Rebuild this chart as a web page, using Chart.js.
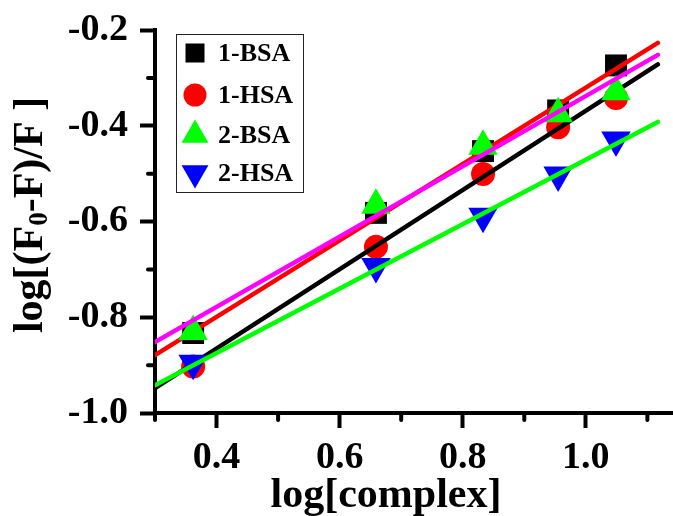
<!DOCTYPE html>
<html lang="en">
<head>
    <meta charset="UTF-8">
    <title>log[(F0-F)/F] vs log[complex]</title>
    <script src="https://cdn.jsdelivr.net/npm/chart.js"></script>
    <style>
        html, body { margin: 0; padding: 0; background: #fff; overflow: hidden; }
        #wrap { position: relative; width: 673px; height: 516px; }
    </style>
</head>
<body>
    <div id="wrap">
        <canvas id="myChart"></canvas>
    </div>

    <script>
        // data
        var xValues = [0.362, 0.659, 0.833, 0.955, 1.049];
        var bsa1 = [-0.833, -0.582, -0.453, -0.368, -0.274];
        var hsa1 = [-0.903, -0.653, -0.501, -0.403, -0.342];
        var bsa2 = [-0.830, -0.566, -0.443, -0.375, -0.329];
        var hsa2 = [-0.896, -0.694, -0.589, -0.503, -0.430];

        // linear fits, read at both ends
        var fitX = [0.3, 1.117];
        var fitRed = [-0.879, -0.227];      // 1-BSA
        var fitBlack = [-0.948, -0.272];    // 1-HSA
        var fitMagenta = [-0.852, -0.252];  // 2-BSA
        var fitGreen = [-0.942, -0.392];    // 2-HSA

        var xTicks = [0.4, 0.6, 0.8, 1.0];
        var xMinor = [0.3, 0.5, 0.7, 0.9, 1.1];
        var yTicks = [-1.0, -0.8, -0.6, -0.4, -0.2];
        var yMinor = [-0.9, -0.7, -0.5, -0.3];

        var FONT = '"Liberation Serif", "Times New Roman", serif';

        function pts(xs, ys) {
            return xs.map(function (x, i) { return { x: x, y: ys[i] }; });
        }

        function scatterSet(label, ys, color, style, radius, rotation, order) {
            return {
                label: label,
                data: pts(xValues, ys),
                showLine: false,
                pointStyle: style,
                pointRadius: radius,
                pointRotation: rotation,
                pointBackgroundColor: color,
                pointBorderWidth: 0,
                backgroundColor: color,
                order: order
            };
        }

        function fitSet(ys, color, order) {
            return {
                label: 'fit',
                data: pts(fitX, ys),
                showLine: true,
                borderColor: color,
                borderWidth: 4.5,
                borderCapStyle: 'round',
                pointRadius: 0,
                fill: false,
                order: order
            };
        }

        var scatterSets = [
            scatterSet('1-BSA', bsa1, '#000000', 'rect', 15.5, 0, 8),
            scatterSet('1-HSA', hsa1, '#ff0000', 'circle', 12, 0, 6),
            scatterSet('2-BSA', bsa2, '#00ff00', 'triangle', 17, 0, 4),
            scatterSet('2-HSA', hsa2, '#0000ff', 'triangle', 17, 180, 2)
        ];

        // minor ticks, axis titles and the inset legend
        var overlay = {
            id: 'overlay',
            afterDraw: function (chart) {
                var ctx = chart.ctx;
                var xs = chart.scales.x, ys = chart.scales.y;
                var area = chart.chartArea;
                ctx.save();
                ctx.strokeStyle = '#000';
                ctx.lineWidth = 4;
                ctx.lineCap = 'round';
                xMinor.forEach(function (v) {
                    var p = xs.getPixelForValue(v);
                    ctx.beginPath();
                    ctx.moveTo(p, area.bottom);
                    ctx.lineTo(p, area.bottom + 7);
                    ctx.stroke();
                });
                yMinor.forEach(function (v) {
                    var p = ys.getPixelForValue(v);
                    ctx.beginPath();
                    ctx.moveTo(area.left, p);
                    ctx.lineTo(area.left - 7, p);
                    ctx.stroke();
                });

                // x title
                ctx.fillStyle = '#000';
                ctx.font = 'bold 42px ' + FONT;
                ctx.textAlign = 'center';
                ctx.textBaseline = 'alphabetic';
                ctx.fillText('log[complex]', 386, 507);

                // y title with subscript
                ctx.save();
                ctx.translate(42, 215);
                ctx.rotate(-Math.PI / 2);
                var big = 'bold 42px ' + FONT, small = 'bold 27px ' + FONT;
                var parts = [['log[(F', big, 0], ['0', small, 5], ['-F)/F ]', big, 0]];
                var total = 0;
                parts.forEach(function (p) { ctx.font = p[1]; total += ctx.measureText(p[0]).width; });
                var cx = -total / 2;
                ctx.textAlign = 'left';
                parts.forEach(function (p) {
                    ctx.font = p[1];
                    ctx.fillText(p[0], cx, p[2]);
                    cx += ctx.measureText(p[0]).width;
                });
                ctx.restore();

                // legend box
                ctx.lineWidth = 1;
                ctx.strokeStyle = '#222';
                ctx.strokeRect(176.5, 34.5, 127, 158);
                var rows = [53, 95, 135, 173];
                ctx.font = 'bold 26px ' + FONT;
                ctx.textAlign = 'left';
                ctx.textBaseline = 'middle';
                scatterSets.forEach(function (ds, i) {
                    var cy = rows[i], mx = 195;
                    ctx.fillStyle = ds.pointBackgroundColor;
                    ctx.beginPath();
                    if (ds.pointStyle === 'rect') {
                        ctx.rect(mx - 9.5, cy - 9.5, 19, 19);
                    } else if (ds.pointStyle === 'circle') {
                        ctx.arc(mx, cy, 11.5, 0, Math.PI * 2);
                    } else {
                        var r = 15.5, s = ds.pointRotation ? -1 : 1;
                        ctx.moveTo(mx, cy - s * r);
                        ctx.lineTo(mx + r * 0.866, cy + s * r / 2);
                        ctx.lineTo(mx - r * 0.866, cy + s * r / 2);
                        ctx.closePath();
                    }
                    ctx.fill();
                    ctx.fillStyle = '#000';
                    ctx.fillText(ds.label, 218, cy + 1);
                });
                ctx.restore();
            }
        };

        var ctx = document.getElementById('myChart').getContext('2d');
        var myChart = new Chart(ctx, {
            type: 'scatter',
            data: {
                datasets: scatterSets.concat([
                    fitSet(fitRed, '#ff0000', 7),
                    fitSet(fitBlack, '#000000', 5),
                    fitSet(fitMagenta, '#ff00ff', 3),
                    fitSet(fitGreen, '#00ff00', 1)
                ])
            },
            options: {
                responsive: true,
                maintainAspectRatio: false,
                animation: false,
                layout: { autoPadding: false, padding: { top: 30, right: 1, left: 0, bottom: 0 } },
                plugins: {
                    legend: { display: false },
                    tooltip: { enabled: false }
                },
                scales: {
                    x: {
                        type: 'linear',
                        min: 0.3,
                        max: 1.14,
                        afterBuildTicks: function (s) { s.ticks = xTicks.map(function (v) { return { value: v }; }); },
                        afterFit: function (s) {
                            s.height = 103;
                            s.paddingLeft = 0; s.paddingRight = 0;
                        },
                        ticks: {
                            color: '#000',
                            padding: 7,
                            maxRotation: 0,
                            font: { family: FONT, size: 38, weight: 'bold' },
                            callback: function (v) { return Number(v).toFixed(1); }
                        },
                        grid: { drawOnChartArea: false, tickLength: 15, tickWidth: 4, tickColor: '#000' },
                        border: { color: '#000', width: 4 }
                    },
                    y: {
                        type: 'linear',
                        min: -1.0,
                        max: -0.2,
                        afterBuildTicks: function (s) { s.ticks = yTicks.map(function (v) { return { value: v }; }); },
                        afterFit: function (s) {
                            s.width = 155;
                            s.paddingTop = 0; s.paddingBottom = 0;
                        },
                        ticks: {
                            color: '#000',
                            padding: 12,
                            font: { family: FONT, size: 38, weight: 'bold' },
                            callback: function (v) { return Number(v).toFixed(1); }
                        },
                        grid: { drawOnChartArea: false, tickLength: 15, tickWidth: 4, tickColor: '#000' },
                        border: { color: '#000', width: 4 }
                    }
                }
            },
            plugins: [overlay]
        });
    </script>
</body>
</html>
